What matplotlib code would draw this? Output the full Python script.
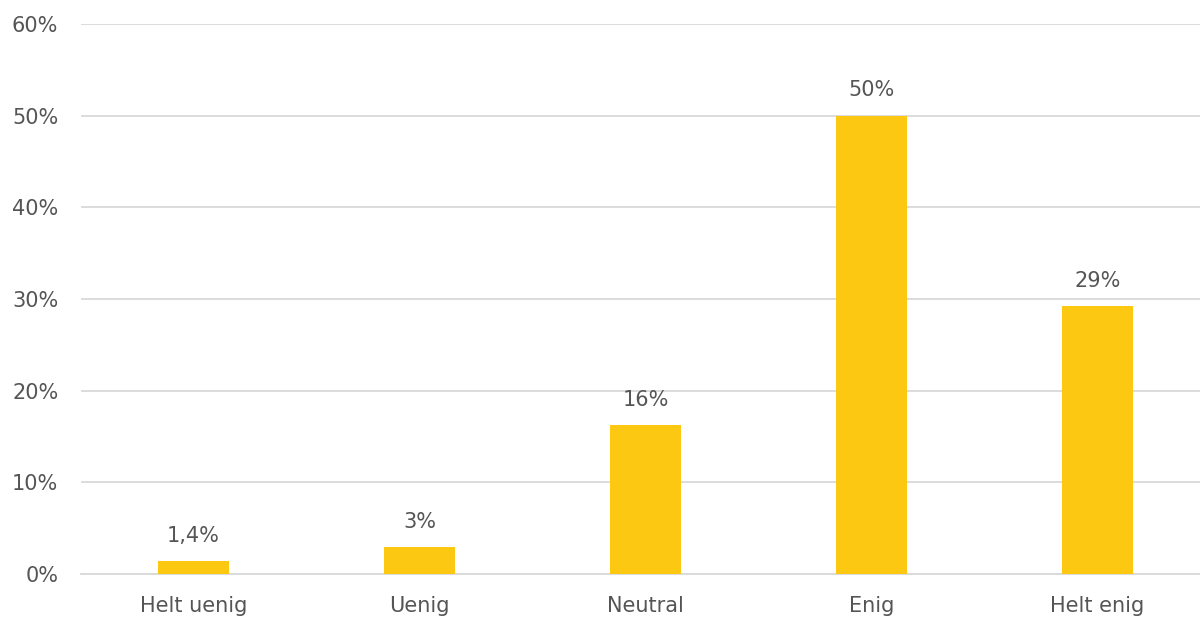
import matplotlib
matplotlib.use("Agg")
import matplotlib.pyplot as plt
from matplotlib.ticker import FuncFormatter

categories = ["Helt uenig", "Uenig", "Neutral", "Enig", "Helt enig"]
values = [1.4, 2.95, 16.25, 50.0, 29.2]
labels = ["1,4%", "3%", "16%", "50%", "29%"]
yticks = [0, 10, 20, 30, 40, 50, 60]

plt.rcParams['font.family'] = ['DejaVu Sans']
txt = "#555555"
fig = plt.figure(figsize=(12, 6.19), dpi=100)
ax = fig.add_axes([80.5/1200, 45/619, 1130/1200, 550/619])
x = list(range(len(categories)))
ax.bar(x, values, width=0.314, color="#FDC811", zorder=3)
for xi, v, l in zip(x, values, labels):
    ax.annotate(l, (xi, v), xytext=(0, 11), textcoords="offset points",
                ha="center", va="bottom", fontsize=15, color=txt)
ax.set_xlim(-0.5, 4.5)
ax.set_ylim(0, 60)
ax.set_yticks(yticks)
ax.yaxis.set_major_formatter(FuncFormatter(lambda v, p: f"{int(v)}%"))
ax.set_xticks(x)
ax.set_xticklabels(categories)
ax.grid(axis="y", color="#D9D9D9", linewidth=1.3, zorder=0)
for s in ["top", "right", "left"]:
    ax.spines[s].set_visible(False)
ax.spines["bottom"].set_color("#D9D9D9")
ax.spines["bottom"].set_linewidth(1.3)
ax.tick_params(axis="both", length=0, labelsize=15, colors=txt)
ax.tick_params(axis="y", pad=16)
ax.tick_params(axis="x", pad=16)
fig.savefig("out.png", dpi=100)
